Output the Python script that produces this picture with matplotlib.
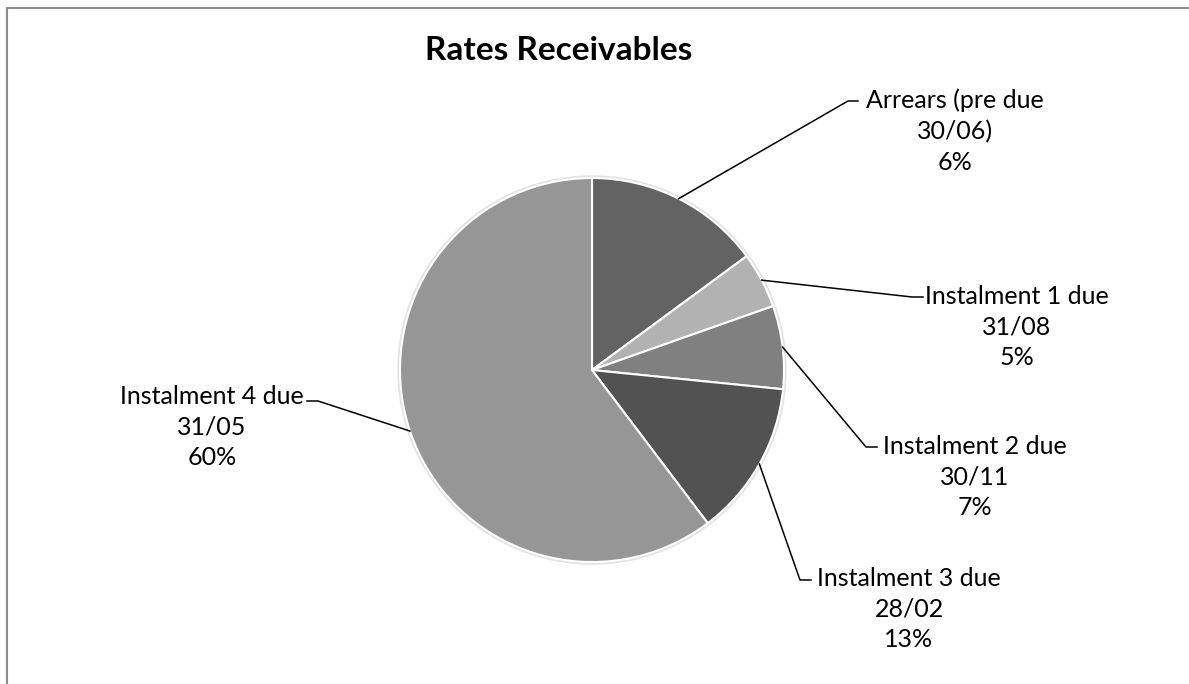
import matplotlib.pyplot as plt
import numpy as np
from matplotlib.lines import Line2D

# slice sizes as drawn (percent of the circle) and the printed labels
categories = [
    "Arrears (pre due\n30/06)",
    "Instalment 1 due\n31/08",
    "Instalment 2 due\n30/11",
    "Instalment 3 due\n28/02",
    "Instalment 4 due\n31/05",
]
slice_sizes = [14.9, 4.7, 7.0, 13.1, 60.3]
pct_labels = ["6%", "5%", "7%", "13%", "60%"]

COLORS = ["#636363", "#b2b2b2", "#808080", "#525252", "#969696"]

W, H = 1189, 684
# label layout in pixel coords: text centre, elbow of leader, end of leader
TEXT_POS = [(955, 131), (1017, 327), (975, 477), (909, 609), (212, 427)]
ELBOWS = [(848, 101), (912, 297), (866, 447), (800, 580), (318, 401)]
ENDS = [858, 923, 877, 811, 307]

plt.rcParams["font.family"] = ["Lato", "DejaVu Sans"]

fig = plt.figure(figsize=(W / 100, H / 100), dpi=100)
ax = fig.add_axes([0, 0, 1, 1])

cx, cy, r = 592, H - 370, 192

# faint halo around the pie
ax.add_patch(plt.Circle((cx, cy), r + 2, color="#e2e2e2", zorder=0))

wedges, _ = ax.pie(
    slice_sizes,
    colors=COLORS,
    startangle=90,
    counterclock=False,
    center=(cx, cy),
    radius=r,
    wedgeprops=dict(edgecolor="white", linewidth=1.5),
    frame=True,
)
ax.set_xlim(0, W)
ax.set_ylim(0, H)
ax.set_aspect("equal")
ax.axis("off")

for w, cat, pct, (tx, ty), (ex, ey), hx in zip(
    wedges, categories, pct_labels, TEXT_POS, ELBOWS, ENDS
):
    mid = np.deg2rad((w.theta1 + w.theta2) / 2)
    px, py = cx + r * np.cos(mid), cy + r * np.sin(mid)
    ax.plot(
        [px, ex, hx],
        [py, H - ey, H - ey],
        color="black",
        linewidth=1.1,
        zorder=3,
    )
    ax.text(
        tx,
        H - ty,
        f"{cat}\n{pct}",
        ha="center",
        va="center",
        multialignment="center",
        fontsize=18,
        linespacing=1.42,
        color="black",
    )

ax.text(559, H - 50, "Rates Receivables", ha="center", va="center",
        fontsize=24, fontweight="bold")

# chart area border (runs off the right and bottom edges)
fig.add_artist(Line2D([7 / W, 1], [1 - 8 / H, 1 - 8 / H], color="#8c8c8c",
                      linewidth=1.5, transform=fig.transFigure))
fig.add_artist(Line2D([7 / W, 7 / W], [0, 1 - 8 / H], color="#8c8c8c",
                      linewidth=1.5, transform=fig.transFigure))

fig.savefig("out.png", dpi=100)
